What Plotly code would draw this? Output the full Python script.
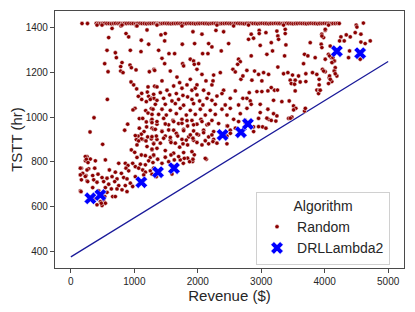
import plotly.graph_objects as go

# ---------------- data ----------------
# DRLLambda2 results
drl_rev = [307, 465, 1110, 1373, 1625, 2391, 2680, 2790, 4192, 4559]
drl_tstt = [637, 652, 709, 754, 772, 921, 933, 970, 1296, 1287]

# reference line (lower envelope)
line_rev = [0, 5000]
line_tstt = [375, 1250]

# Random runs that hit the TSTT cap (top row)
top_rev = [176, 262, 400, 432, 463, 498, 531, 566, 601, 638, 672, 703, 741, 772, 808, 842, 877,
           913, 948, 981, 1019, 1052, 1088, 1121, 1158, 1192, 1229, 1262, 1298, 1333, 1368, 1401,
           1439, 1472, 1508, 1541, 1578, 1612, 1649, 1682, 1718, 1751, 1789, 1822, 1858, 1891,
           1928, 1962, 1998, 2031, 2068, 2102, 2139, 2172, 2208, 2241, 2278, 2312, 2349, 2382,
           2418, 2451, 2488, 2522, 2558, 2591, 2628, 2662, 2698, 2731, 2768, 2802, 2838, 2871,
           2908, 2942, 2978, 3011, 3048, 3082, 3118, 3151, 3188, 3222, 3258, 3291, 3328, 3362,
           3398, 3431, 3468, 3502, 3538, 3571, 3608, 3642, 3678, 3711, 3748, 3782, 3818, 3851,
           3888, 3922, 3958, 3991, 4028, 4062, 4098, 4131, 4168, 4201, 4230, 4610]
top_tstt = [1420, 1420, 1421, 1420, 1419, 1420, 1421, 1420, 1420, 1419, 1420, 1421, 1420, 1420, 1419, 1420, 1420,
            1421, 1420, 1420, 1419, 1420, 1421, 1420, 1420, 1419, 1420, 1420, 1421, 1420, 1420, 1419,
            1420, 1421, 1420, 1420, 1419, 1420, 1420, 1421, 1420, 1420, 1419, 1420, 1421, 1420,
            1420, 1419, 1420, 1420, 1421, 1420, 1420, 1419, 1420, 1421, 1420, 1420, 1419, 1420,
            1420, 1421, 1420, 1420, 1419, 1420, 1421, 1420, 1420, 1419, 1420, 1420, 1421, 1420,
            1420, 1419, 1420, 1421, 1420, 1420, 1419, 1420, 1420, 1421, 1420, 1420, 1419, 1420,
            1421, 1420, 1420, 1419, 1420, 1420, 1421, 1420, 1420, 1419, 1420, 1421, 1420, 1420,
            1419, 1420, 1420, 1421, 1420, 1420, 1419, 1420, 1420, 1421, 1420, 1422]

# Random runs: scattered points (revenue, TSTT)
random_pts = [
    # upper-left cloud
    (491, 1413), (649, 1398), (790, 1409), (1032, 1409), (869, 1375),
    (911, 1360), (596, 1357), (1200, 1391), (1110, 1345), (1226, 1327),
    (570, 1300), (701, 1289), (717, 1267), (937, 1300), (1105, 1294),
    (533, 1240), (806, 1245), (785, 1227), (932, 1234), (953, 1222),
    (586, 1204), (785, 1207), (822, 1200), (1027, 1212), (1237, 1204),
    (1310, 1215), (948, 1158), (990, 1145), (1037, 1127), (1216, 1136),
    (1320, 1139), (1116, 1107), (1063, 1094), (1205, 1113), (1226, 1094),
    (1268, 1085), (1310, 1085), (575, 1080), (1116, 1080), (1189, 1070),
    (1268, 1039), (1011, 1040), (979, 1033), (1179, 1030), (1216, 1019),
    (1279, 1013), (365, 998), (1079, 994), (1132, 995), (1189, 979),
    (1268, 983), (1194, 957), (1279, 951), (1079, 951), (895, 969),
    (848, 942), (302, 934), (1153, 936), (1110, 924), (1058, 916),
    (1210, 912), (1032, 900), (1132, 901),
    # central cloud
    (1357, 1416), (1488, 1375), (1420, 1369), (1924, 1383), (2066, 1372),
    (2286, 1389), (2407, 1383), (1478, 1342), (1756, 1327), (1950, 1330),
    (2171, 1330), (2223, 1315), (2486, 1330), (1383, 1300), (1546, 1285),
    (1635, 1285), (2076, 1285), (2160, 1285), (2370, 1297), (1436, 1264),
    (1478, 1240), (1761, 1240), (1882, 1260), (1934, 1252), (1945, 1237),
    (2013, 1240), (2643, 1260), (2670, 1249), (2628, 1237), (1777, 1230),
    (1987, 1215), (1320, 1210), (1567, 1207), (2355, 1200), (2554, 1215),
    (2591, 1203), (2680, 1170), (2711, 1185), (2066, 1192), (2250, 1189),
    (1436, 1163), (1672, 1180), (1714, 1155), (1882, 1170), (1830, 1145),
    (1987, 1145), (2129, 1163), (2223, 1145), (2240, 1163), (1620, 1140),
    (1357, 1136), (1515, 1121), (1751, 1130), (1908, 1121), (1961, 1130),
    (2092, 1121), (2407, 1121), (2591, 1118), (1305, 1103), (1410, 1110),
    (1557, 1100), (1662, 1106), (1766, 1098), (1840, 1091), (1987, 1100),
    (2171, 1106), (2302, 1095), (2381, 1106), (1252, 1080), (1357, 1076),
    (1462, 1085), (1593, 1073), (1698, 1080), (1908, 1080), (2029, 1073),
    (2145, 1085), (2223, 1076), (2512, 1085), (2711, 1085), (1331, 1058),
    (1488, 1058), (1646, 1061), (1777, 1054), (1934, 1061), (2081, 1055),
    (2276, 1058), (2433, 1055), (2643, 1055), (1294, 1036), (1436, 1036),
    (1567, 1031), (1724, 1040), (1882, 1031), (2040, 1036), (2197, 1031),
    (2381, 1036), (2512, 1040), (2775, 1040), (1383, 1013), (1504, 1010),
    (1662, 1016), (1819, 1010), (1961, 1013), (2118, 1010), (2276, 1013),
    (2460, 1010), (2670, 1016), (1278, 991), (1462, 995), (1609, 986),
    (1751, 991), (1908, 986), (2050, 991), (2223, 986), (2565, 991),
    (2748, 986), (1357, 969), (1541, 966), (1698, 972), (1840, 961),
    (1987, 969), (2145, 966), (2328, 972), (2460, 961), (1305, 946),
    (1436, 939), (1620, 942), (1777, 946), (1934, 939), (2092, 942),
    (2250, 936), (2512, 942), (1488, 916), (1672, 921), (1856, 912),
    (2013, 921), (2171, 912), (2460, 916), (1357, 901), (1567, 897),
    (1751, 901), (1934, 897), (2250, 901),
    # right cloud
    (2842, 1372), (2968, 1389), (2968, 1375), (3074, 1379), (3247, 1386),
    (3262, 1364), (3378, 1394), (3378, 1375), (2800, 1349), (2879, 1354),
    (3273, 1349), (3955, 1372), (4008, 1389), (3982, 1357), (3772, 1334),
    (3158, 1334), (2984, 1322), (3389, 1324), (3945, 1327), (4087, 1319),
    (3178, 1297), (3089, 1282), (3368, 1275), (3682, 1282), (3735, 1275),
    (3850, 1267), (2842, 1275), (4060, 1282), (4103, 1267), (4155, 1252),
    (4123, 1245), (3667, 1240), (3262, 1225), (2774, 1210), (2895, 1207),
    (2958, 1192), (3037, 1200), (3116, 1192), (3352, 1195), (3420, 1200),
    (3493, 1189), (3588, 1185), (3703, 1195), (3808, 1200), (3876, 1192),
    (3966, 1215), (4008, 1204), (4155, 1210), (4192, 1185), (2853, 1166),
    (3010, 1163), (3457, 1166), (3535, 1166), (3614, 1158), (3703, 1160),
    (3913, 1170), (4071, 1177), (4113, 1160), (3473, 1151), (3525, 1148),
    (3913, 1145), (3158, 1133), (3210, 1121), (3257, 1122), (3535, 1118),
    (3877, 1122), (3919, 1122), (2811, 1110), (2932, 1115), (3010, 1115),
    (3105, 1118), (3903, 1106), (2774, 1085), (2827, 1073), (2842, 1058),
    (2984, 1058), (3194, 1076), (3325, 1070), (3441, 1073), (3509, 1051),
    (3546, 1040), (3682, 1028), (3105, 1036), (2984, 1021), (3194, 1016),
    (3247, 1006), (2958, 995), (3116, 991), (3158, 986), (3231, 983),
    (3431, 995), (3483, 1001), (2879, 957), (3021, 957), (3074, 951),
    (2748, 976),
    # far right
    (4497, 1413), (4508, 1404), (4009, 1394), (3956, 1364), (4256, 1360),
    (4340, 1369), (4403, 1360), (4481, 1379), (4571, 1372), (4235, 1342),
    (4308, 1342), (4571, 1337), (4638, 1330), (4718, 1342), (3956, 1312),
    (4392, 1297), (4376, 1267), (4560, 1260), (4077, 1275), (4130, 1267),
    (4150, 1252), (4114, 1245), (4009, 1260), (3983, 1207), (4166, 1222),
    (4150, 1207), (4166, 1195), (4077, 1185), (4088, 1170), (4061, 1151),
    (3930, 1121),
    # just below the cap
    (412, 1413), (806, 1413), (1042, 1409), (1357, 1413), (1751, 1409),
    (2302, 1413), (2565, 1409), (2800, 1413), (3352, 1413), (4061, 1413),
    # lower-left cloud
    (1016, 918), (1111, 903), (1068, 894), (1184, 894), (1268, 903),
    (1305, 884), (1200, 869), (1042, 876), (501, 879), (953, 854),
    (1006, 843), (1279, 854), (1111, 831), (1174, 828), (1042, 820),
    (1252, 820), (1305, 828), (255, 824), (307, 813), (386, 805),
    (229, 805), (544, 809), (754, 794), (858, 794), (900, 784),
    (974, 794), (1016, 779), (1095, 790), (1174, 787), (1226, 805),
    (166, 772), (281, 769), (376, 772), (607, 764), (701, 754),
    (796, 749), (869, 772), (911, 760), (1069, 772), (1132, 764),
    (1174, 754), (1252, 760), (1279, 745), (187, 749), (239, 739),
    (344, 739), (428, 745), (491, 730), (570, 727), (649, 734),
    (727, 724), (832, 730), (885, 724), (1016, 734), (1148, 742),
    (166, 720), (255, 715), (360, 720), (412, 709), (517, 712),
    (596, 700), (691, 712), (754, 694), (858, 694), (937, 705),
    (974, 690), (544, 685), (638, 679), (727, 679), (806, 675),
    (885, 667), (150, 670), (344, 685), (439, 670), (491, 660),
    (570, 664), (659, 645), (701, 645), (533, 645), (517, 630),
    (465, 622), (544, 615), (491, 605), (412, 608), (376, 635),
    (228, 824), (244, 812), (270, 797), (149, 772), (255, 764),
    (149, 742), (228, 735), (265, 712), (160, 667), (480, 615),
    (1619, 839), (1724, 809), (1772, 794), (1840, 817), (1919, 802),
    (1945, 832), (2134, 812),
    # mid-low cloud
    (1278, 976), (1357, 981), (1488, 970), (1620, 981), (1751, 973),
    (1830, 985), (1934, 966), (2066, 981), (2171, 970), (2470, 961),
    (2643, 981), (1331, 946), (1436, 936), (1541, 943), (1662, 928),
    (1777, 940), (1882, 921), (1987, 925), (2092, 931), (2223, 921),
    (1278, 913), (1347, 916), (1462, 906), (1567, 910), (1683, 916),
    (1819, 898), (1924, 906), (2118, 895), (2239, 891), (2460, 881),
    (1305, 881), (1410, 884), (1578, 887), (1646, 884), (1767, 881),
    (1840, 876), (1987, 887), (2066, 876), (2171, 881), (2302, 884),
    (1278, 857), (1357, 861), (1488, 851), (1714, 866), (1777, 842),
    (1908, 846), (2118, 816), (1305, 831), (1368, 812), (1488, 821),
    (1578, 831), (1630, 809), (1698, 824), (1788, 816), (1871, 801),
    (1924, 812), (1294, 797), (1436, 794), (1541, 801), (1609, 782),
    (1305, 772), (1357, 761), (1347, 734), (1593, 746),
    (2514, 928), (2593, 951), (2880, 936), (2958, 958), (3089, 996),
    (3510, 1033), (3695, 1040), (3458, 996),
]

x_ticks = [0, 1000, 2000, 3000, 4000, 5000]
y_ticks = [400, 600, 800, 1000, 1200, 1400]

# ---------------- figure ----------------
rand_rev = top_rev + [p[0] for p in random_pts]
rand_tstt = top_tstt + [p[1] for p in random_pts]

FONT = "Arial, Liberation Sans, DejaVu Sans, sans-serif"
TXT = "#262626"

fig = go.Figure()
fig.add_trace(go.Scatter(
    x=line_rev, y=line_tstt, mode="lines",
    line=dict(color="#1a1a9a", width=1.3), showlegend=False, hoverinfo="skip"))
fig.add_trace(go.Scatter(
    x=rand_rev, y=rand_tstt, mode="markers", name="Random",
    marker=dict(color="#8b0000", size=4.3, line=dict(color="white", width=0.5))))
fig.add_trace(go.Scatter(
    x=drl_rev, y=drl_tstt, mode="markers", name="DRLLambda2",
    marker=dict(color="#0000ff", size=11, symbol="x", line=dict(color="white", width=0.5))))

axis_common = dict(
    showgrid=False, zeroline=False, showline=True, mirror=True,
    linecolor="#4a4a4a", linewidth=1.2, ticks="outside", ticklen=4, tickwidth=1,
    tickcolor="#4a4a4a", tickfont=dict(family=FONT, size=10, color=TXT))

fig.update_xaxes(range=[-250, 5250], tickvals=x_ticks,
                 title=dict(text="Revenue ($)", font=dict(family=FONT, size=15, color=TXT), standoff=0),
                 **axis_common)
fig.update_yaxes(range=[325, 1476], tickvals=y_ticks,
                 title=dict(text="TSTT (hr)", font=dict(family=FONT, size=15, color=TXT), standoff=13),
                 **axis_common)

# The page body adds an 8 px offset, so the figure is sized to fit the window.
fig.update_layout(
    width=407, height=304,
    margin=dict(l=47, r=11, t=3, b=44, autoexpand=False),
    plot_bgcolor="white", paper_bgcolor="white",
    font=dict(family=FONT, color=TXT),
    legend=dict(
        x=0.576, y=0.012, xanchor="left", yanchor="bottom",
        bgcolor="white", bordercolor="#d0d0d0", borderwidth=1,
        font=dict(family=FONT, size=14, color=TXT),
        title=dict(text="Algorithm", side="top center", font=dict(family=FONT, size=14, color=TXT)),
        tracegroupgap=0, itemsizing="trace",
    ),
)

fig.write_html("out.html")
